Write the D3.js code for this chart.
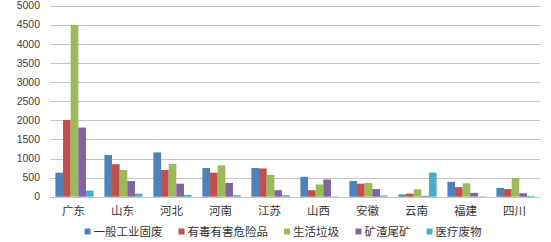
<!DOCTYPE html>
<html lang="zh">
<head>
<meta charset="UTF-8">
<title>固体废物</title>
<script src="https://d3js.org/d3.v7.min.js"></script>
<style>
    body { margin: 0; background: #fff; }
    .tick-y text { font-family: "Liberation Sans", Arial, sans-serif; font-size: 10.5px; fill: #404040; }
    .cat text, .legend text { font-family: "Noto Sans CJK SC", sans-serif; font-size: 11.5px; fill: #333; }
</style>
</head>
<body>
<script>
const provinces = ["广东", "山东", "河北", "河南", "江苏", "山西", "安徽", "云南", "福建", "四川"];
const seriesNames = ["一般工业固废", "有毒有害危险品", "生活垃圾", "矿渣尾矿", "医疗废物"];
const industrial = [630, 1090, 1160, 750, 750, 520, 410, 60, 390, 230];
const hazardous  = [2010, 850, 700, 630, 740, 170, 340, 80, 250, 200];
const household  = [4500, 700, 860, 820, 570, 320, 360, 190, 350, 490];
const tailings   = [1810, 410, 340, 360, 170, 450, 200, 20, 100, 90];
const medical    = [160, 80, 50, 40, 40, 10, 30, 630, 10, 20];
const yTicks = [0, 500, 1000, 1500, 2000, 2500, 3000, 3500, 4000, 4500, 5000];
const colors = ["#4F81BD", "#C0504D", "#9BBB59", "#8064A2", "#4BACC6"];

const series = [industrial, hazardous, household, tailings, medical];

const width = 551, height = 242;
const plotLeft = 50, plotRight = 540, plotTop = 5.7, plotBottom = 196.7;

const svg = d3.select("body").append("svg")
    .attr("width", width)
    .attr("height", height);

const y = d3.scaleLinear().domain([0, 5000]).range([plotBottom, plotTop]);
const x0 = d3.scaleBand().domain(provinces).range([plotLeft, plotRight])
    .paddingInner(0.22).paddingOuter(0.11);
const x1 = d3.scaleBand().domain(d3.range(series.length)).range([0, x0.bandwidth()]);

// gridlines + y labels
const yg = svg.append("g").attr("class", "tick-y");
yg.selectAll("line").data(yTicks).join("line")
    .attr("x1", plotLeft).attr("x2", plotRight)
    .attr("y1", d => Math.round(y(d)) + 0.5).attr("y2", d => Math.round(y(d)) + 0.5)
    .attr("stroke", "#c4c4c4").attr("stroke-width", 1);
yg.selectAll("text").data(yTicks).join("text")
    .attr("x", plotLeft - 10).attr("y", d => y(d))
    .attr("dy", "0.35em").attr("text-anchor", "end")
    .text(d => d);

// bars
const groups = svg.append("g").selectAll("g")
    .data(provinces).join("g")
    .attr("transform", d => `translate(${x0(d)},0)`);
groups.selectAll("rect")
    .data((p, i) => series.map((s, k) => ({k: k, v: s[i]})))
    .join("rect")
    .attr("x", d => x1(d.k))
    .attr("width", x1.bandwidth())
    .attr("y", d => y(d.v))
    .attr("height", d => plotBottom - y(d.v))
    .attr("fill", d => colors[d.k]);

// category labels
svg.append("g").attr("class", "cat").selectAll("text")
    .data(provinces).join("text")
    .attr("x", d => x0(d) + x0.bandwidth() / 2 - 1)
    .attr("y", 211)
    .attr("dy", "0.35em")
    .attr("text-anchor", "middle")
    .text(d => d);

// legend
const legend = svg.append("g").attr("class", "legend");
const items = legend.selectAll("g").data(seriesNames).join("g");
items.append("rect").attr("width", 6).attr("height", 6).attr("y", -3)
    .attr("fill", (d, i) => colors[i]);
items.append("text").attr("x", 9).attr("dy", "0.35em").text(d => d);
let cx = 0;
items.each(function() {
    const w = this.getBBox().width;
    d3.select(this).attr("transform", `translate(${cx},0)`);
    cx += w + 16;
});
const total = cx - 16;
legend.attr("transform", `translate(${283 - total / 2},231.5)`);
</script>
</body>
</html>
